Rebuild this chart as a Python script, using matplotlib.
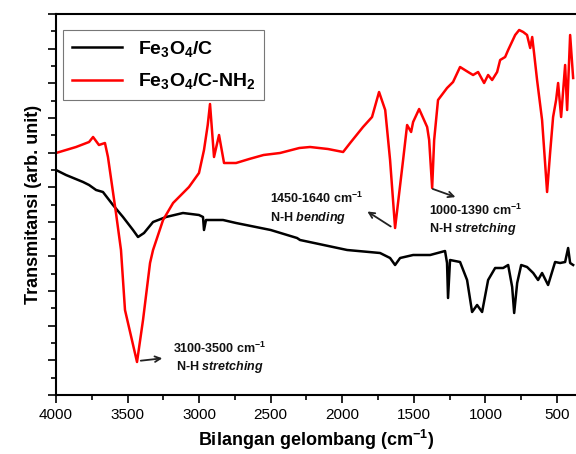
import matplotlib.pyplot as plt
from matplotlib.ticker import MultipleLocator

plt.rcParams['font.family'] = ['Liberation Sans', 'DejaVu Sans']
plt.rcParams['mathtext.fontset'] = 'custom'
plt.rcParams['mathtext.rm'] = 'Liberation Sans:bold'
plt.rcParams['mathtext.bf'] = 'Liberation Sans:bold'
plt.rcParams['mathtext.it'] = 'Liberation Sans:italic:bold'

# FTIR spectra, arbitrary transmittance units
wn_nh2 = [4000, 3860, 3769, 3741, 3700, 3658, 3637, 3581, 3546, 3518, 3434, 3392,
          3343, 3322, 3252, 3182, 3071, 3001, 2966, 2940, 2924, 2896, 2861, 2826,
          2742, 2650, 2550, 2435, 2300, 2225, 2100, 1994, 1945, 1855, 1792, 1743,
          1700, 1666, 1631, 1575, 1547, 1519, 1505, 1463, 1407, 1393, 1372, 1358,
          1331, 1268, 1226, 1177, 1121, 1086, 1051, 1009, 981, 953, 918, 897,
          862, 841, 792, 764, 736, 709, 687, 673, 660, 639, 604, 583, 569, 548,
          527, 506, 492, 471, 443, 429, 408, 387]
t_nh2 = [242, 248, 253, 258, 250, 252, 238, 182, 145, 85, 33, 75,
         132, 145, 175, 192, 208, 222, 245, 270, 291, 238, 260, 232,
         232, 236, 240, 242, 247, 248, 246, 243, 252, 268, 278, 303,
         285, 235, 167, 235, 270, 263, 273, 286, 268, 255, 207, 255,
         295, 307, 313, 328, 323, 320, 323, 312, 320, 315, 323, 335,
         338, 345, 360, 365, 363, 360, 347, 358, 342, 315, 275, 232, 203, 242,
         278, 295, 312, 278, 330, 285, 360, 317]

wn_c = [4000, 3930, 3811, 3769, 3720, 3672, 3602, 3532, 3462, 3427, 3385, 3322,
        3231, 3113, 3001, 2973, 2966, 2952, 2833, 2742, 2500, 2316, 2295, 1966,
        1736, 1666, 1631, 1596, 1505, 1386, 1282, 1268, 1261, 1247, 1177, 1128,
        1093, 1058, 1023, 981, 932, 876, 841, 813, 799, 778, 750, 709, 666,
        632, 604, 562, 513, 478, 443, 422, 408, 387]
t_c = [225, 220, 213, 210, 205, 203, 190, 178, 165, 158, 162, 173,
       178, 182, 180, 178, 165, 175, 175, 172, 165, 157, 155, 145,
       142, 137, 130, 137, 140, 140, 144, 132, 97, 135, 133, 115,
       83, 90, 83, 115, 127, 127, 130, 108, 82, 112, 130, 128, 122,
       115, 122, 110, 133, 132, 133, 147, 132, 130]

fig = plt.figure(figsize=(5.76, 4.54), dpi=100)
ax = fig.add_axes([56 / 576, 59 / 454, 520 / 576, 381 / 454])

ax.plot(wn_c, t_c, color='black', lw=1.8, label='Fe$_3$O$_4$/C')
ax.plot(wn_nh2, t_nh2, color='#ff0000', lw=1.8, label='Fe$_3$O$_4$/C-NH$_2$')

ax.set_xlim(4000, 367)
ax.set_ylim(0, 381)
ax.xaxis.set_major_locator(MultipleLocator(500))
ax.xaxis.set_minor_locator(MultipleLocator(250))
ax.yaxis.set_major_locator(MultipleLocator(381 / 11))
ax.yaxis.set_minor_locator(MultipleLocator(381 / 22))
ax.tick_params(axis='both', which='major', direction='out', length=6, width=1.2,
               labelsize=11)
ax.tick_params(axis='both', which='minor', direction='out', length=3.5, width=1.2)
ax.tick_params(axis='y', which='both', labelleft=False)
for s in ['left', 'bottom', 'top']:
    ax.spines[s].set_linewidth(1.5)
ax.spines['right'].set_visible(False)

ax.set_xlabel('Bilangan gelombang (cm$^{-1}$)', fontsize=13, fontweight='bold')
ax.set_ylabel('Transmitansi (arb. unit)', fontsize=13, fontweight='bold')

leg = ax.legend(loc='upper left', bbox_to_anchor=(0.0135, 0.958), borderaxespad=0,
                prop={'size': 14, 'weight': 'bold'}, frameon=True,
                fancybox=False, edgecolor='#555555', handlelength=2.6,
                labelspacing=0.65, borderpad=0.45)
leg.get_frame().set_linewidth(0.8)

fs = 9
arrow = dict(arrowstyle='->', lw=1.3, color='#222222')
ax.annotate('', xy=(3238, 37), xytext=(3427, 34), arrowprops=arrow)
ax.text(2854, 37, '3100-3500 cm$^{-1}$\nN-H $\\mathit{stretching}$',
        fontsize=fs, fontweight='bold', ha='center', va='center',
        multialignment='center', linespacing=1.3, color='#111111')
ax.annotate('', xy=(1841, 185), xytext=(1645, 167), arrowprops=arrow)
ax.text(2505, 186.5, '1450-1640 cm$^{-1}$\nN-H $\\mathit{bending}$',
        fontsize=fs, fontweight='bold', ha='left', va='center',
        linespacing=1.3, color='#111111')
ax.annotate('', xy=(1191, 197), xytext=(1386, 207), arrowprops=arrow)
ax.text(1393, 175, '1000-1390 cm$^{-1}$\nN-H $\\mathit{stretching}$',
        fontsize=fs, fontweight='bold', ha='left', va='center',
        linespacing=1.3, color='#111111')

fig.savefig('out.png', dpi=100)
